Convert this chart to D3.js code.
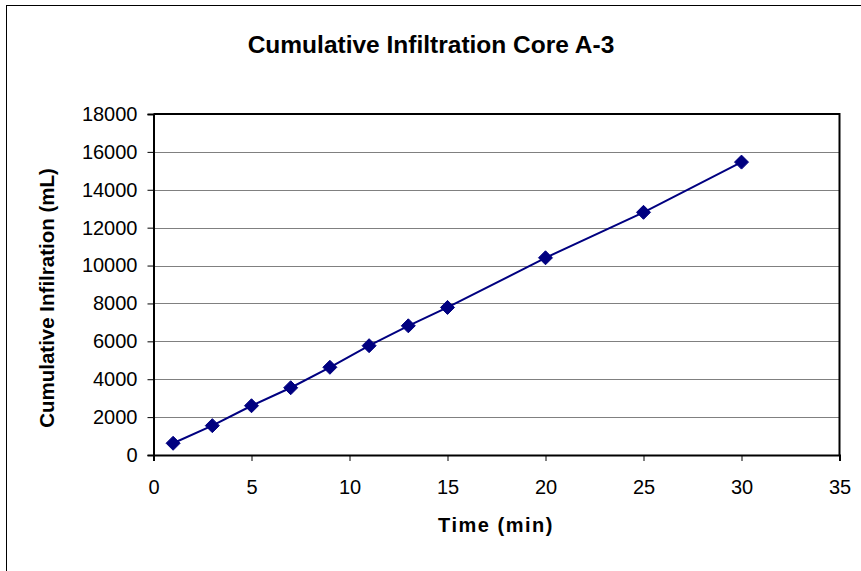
<!DOCTYPE html>
<html>
<head>
<meta charset="utf-8">
<script src="https://cdn.jsdelivr.net/npm/d3@7"></script>
<style>
  html, body { margin: 0; padding: 0; background: #fff; }
  svg { display: block; }
  text { font-family: "Liberation Sans", Arial, sans-serif; fill: #000; }
</style>
</head>
<body>
<svg id="chart" width="861" height="571"></svg>
<script>
const timeMin = [1, 3, 5, 7, 9, 11, 13, 15, 20, 25, 30];
const cumInfil = [620, 1550, 2600, 3550, 4630, 5770, 6820, 7790, 10410, 12810, 15460];
const xTicks = [0, 5, 10, 15, 20, 25, 30, 35];
const yTicks = [0, 2000, 4000, 6000, 8000, 10000, 12000, 14000, 16000, 18000];
const titleText = "Cumulative Infiltration Core A-3";
const xTitle = "Time (min)";
const yTitle = "Cumulative Infilration (mL)";

const svg = d3.select("#chart");
const plot = { left: 153.5, right: 839.5, top: 114, bottom: 455 };

// outer chart border (extends past the right and bottom edges)
svg.append("rect").attr("x", 6.5).attr("y", 5.5).attr("width", 900).attr("height", 600)
  .attr("fill", "#fff").attr("stroke", "#000").attr("stroke-width", 1);

const x = d3.scaleLinear().domain([0, 35]).range([plot.left, plot.right]);
const y = d3.scaleLinear().domain([0, 18000]).range([plot.bottom, plot.top]);

// gridlines
svg.append("g").selectAll("line").data(yTicks.filter(d => d > 0 && d < 18000)).join("line")
  .attr("x1", plot.left).attr("x2", plot.right)
  .attr("y1", d => Math.round(y(d)) + 0.5).attr("y2", d => Math.round(y(d)) + 0.5)
  .attr("stroke", "#808080").attr("stroke-width", 1);

// plot frame (top and right)
svg.append("path")
  .attr("d", `M${plot.left},${plot.top}H${plot.right}V${plot.bottom}`)
  .attr("fill", "none").attr("stroke", "#000").attr("stroke-width", 2);

// y axis
const yAxis = d3.axisLeft(y).tickValues(yTicks).tickSize(6).tickPadding(10).tickFormat(d3.format("d"));
const gy = svg.append("g").attr("transform", `translate(${plot.left},0)`).call(yAxis);
gy.select(".domain").attr("stroke", "#000").attr("stroke-width", 2);
gy.selectAll(".tick line").attr("stroke", "#000").attr("stroke-width", 1);
gy.selectAll(".tick text").attr("font-size", 20).attr("font-family", "Liberation Sans, Arial, sans-serif").attr("fill", "#000");

// x axis
const xAxis = d3.axisBottom(x).tickValues(xTicks).tickSize(6).tickPadding(19).tickFormat(d3.format("d"));
const gx = svg.append("g").attr("transform", `translate(0,${plot.bottom})`).call(xAxis);
gx.select(".domain").attr("stroke", "#000").attr("stroke-width", 2);
gx.selectAll(".tick line").attr("stroke", "#000").attr("stroke-width", 1);
gx.selectAll(".tick text").attr("font-size", 20).attr("font-family", "Liberation Sans, Arial, sans-serif").attr("fill", "#000");

// data line
const data = timeMin.map((t, i) => ({ t, v: cumInfil[i] }));
svg.append("path").datum(data)
  .attr("d", d3.line().x(d => x(d.t)).y(d => y(d.v)))
  .attr("fill", "none").attr("stroke", "#000080").attr("stroke-width", 2);

// diamond markers
svg.append("g").selectAll("path").data(data).join("path")
  .attr("transform", d => `translate(${x(d.t)},${y(d.v)})`)
  .attr("d", "M0,-7L7,0L0,7L-7,0Z")
  .attr("fill", "#000080").attr("stroke", "#000080").attr("stroke-width", 1);

// titles
svg.append("text").attr("x", 431).attr("y", 53).attr("text-anchor", "middle")
  .attr("font-size", 24.5).attr("font-weight", "bold").text(titleText);
svg.append("text").attr("x", 496).attr("y", 532).attr("text-anchor", "middle")
  .attr("font-size", 20).attr("font-weight", "bold").attr("letter-spacing", 1.5).text(xTitle);
svg.append("text").attr("transform", "translate(54,298) rotate(-90)").attr("text-anchor", "middle")
  .attr("font-size", 20.5).attr("font-weight", "bold").text(yTitle);
</script>
</body>
</html>
